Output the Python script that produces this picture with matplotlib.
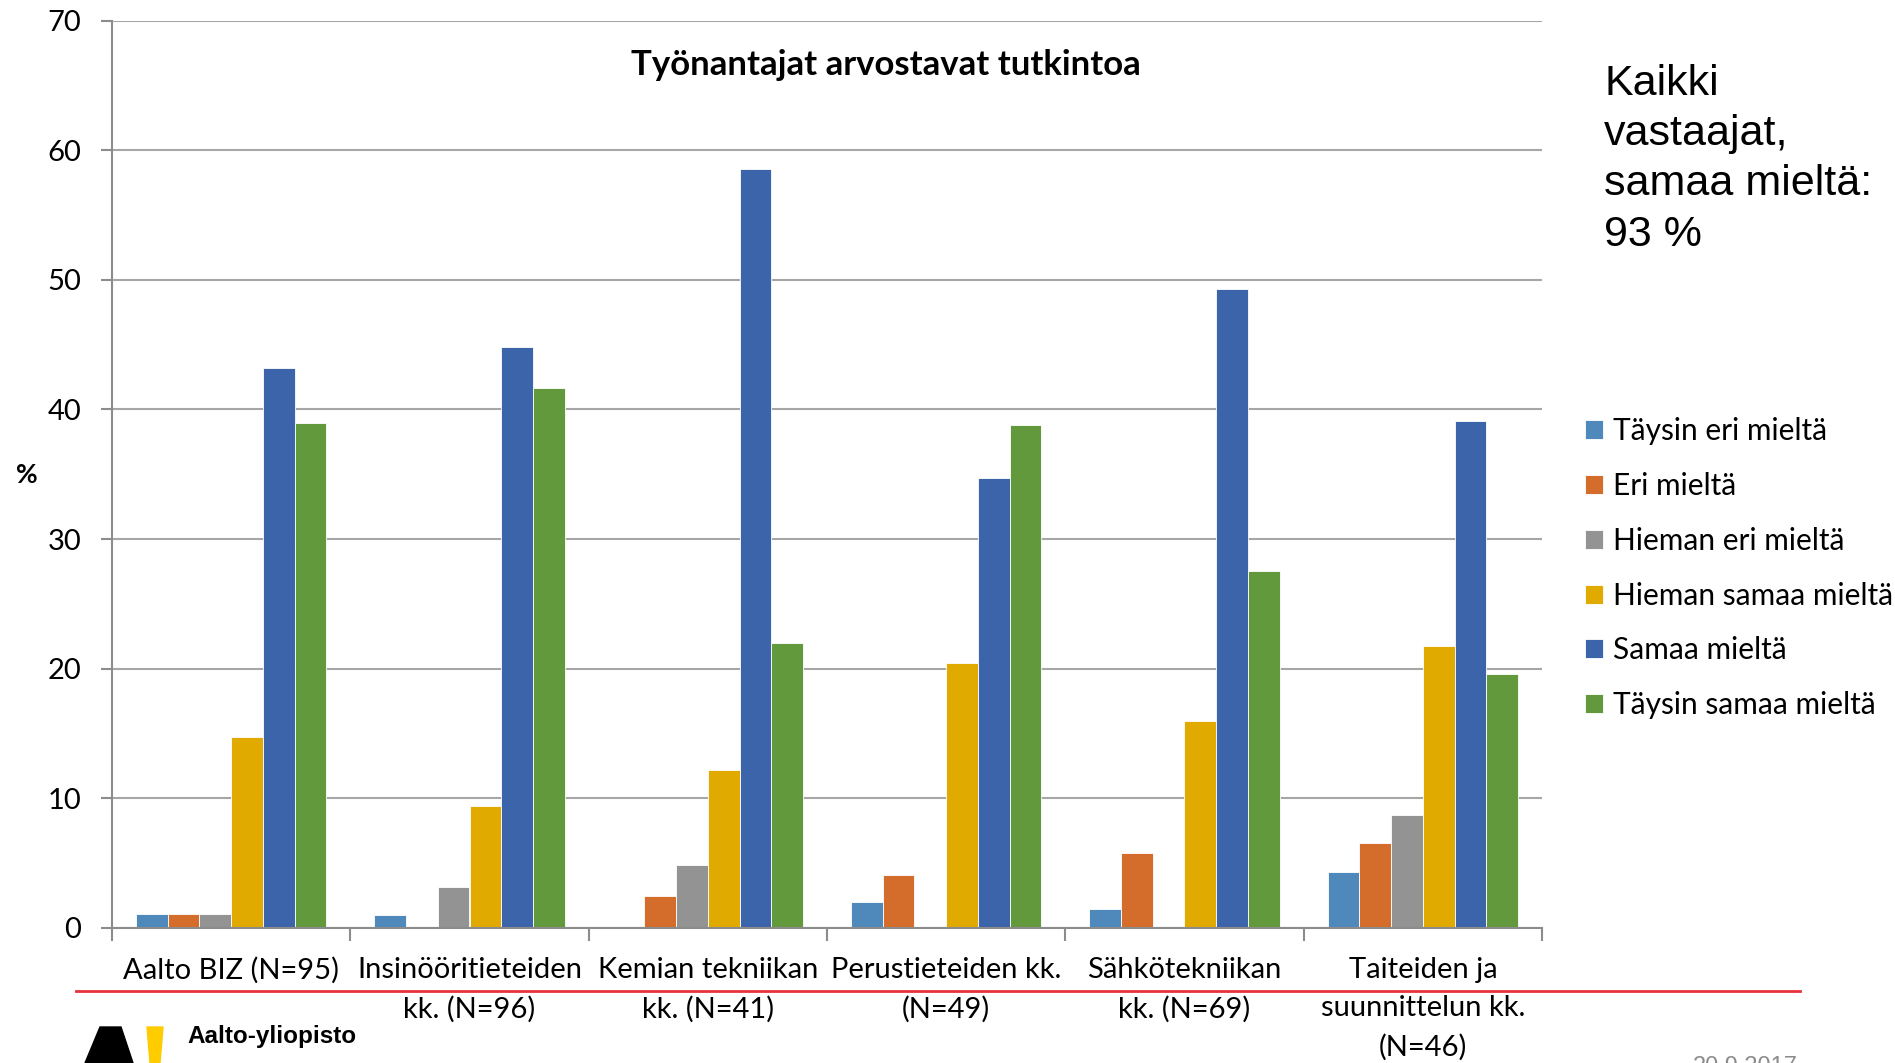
import numpy as np
import matplotlib
matplotlib.use("Agg")
import matplotlib.pyplot as plt
from matplotlib.patches import Polygon

plt.rcParams['font.family'] = ['Lato', 'DejaVu Sans']

# Data (%)
categories = ["Aalto BIZ (N=95)", "Insinööritieteiden\nkk. (N=96)", "Kemian tekniikan\nkk. (N=41)",
              "Perustieteiden kk.\n(N=49)", "Sähkötekniikan\nkk. (N=69)", "Taiteiden ja\nsuunnittelun kk.\n(N=46)"]
series = ["Täysin eri mieltä", "Eri mieltä", "Hieman eri mieltä",
          "Hieman samaa mieltä", "Samaa mieltä", "Täysin samaa mieltä"]
taysin_eri = [1.05, 1.04, 0.0, 2.04, 1.45, 4.35]
eri = [1.05, 0.0, 2.44, 4.08, 5.80, 6.52]
hieman_eri = [1.05, 3.13, 4.88, 0.0, 0.0, 8.70]
hieman_samaa = [14.74, 9.38, 12.20, 20.41, 15.94, 21.74]
samaa = [43.16, 44.79, 58.54, 34.69, 49.28, 39.13]
taysin_samaa = [38.95, 41.67, 21.95, 38.78, 27.54, 19.57]
values = [taysin_eri, eri, hieman_eri, hieman_samaa, samaa, taysin_samaa]
colors = ["#4f88bb", "#d46d2c", "#939393", "#e1aa00", "#3c64aa", "#63993d"]

W, H = 1895, 1063
fig = plt.figure(figsize=(W / 100, H / 100), dpi=100)
ax = fig.add_axes([112 / W, 1 - 928 / H, (1542 - 112) / W, (928 - 20.5) / H])

x = np.arange(len(categories))
bw = 1 / 7.5
for j, (vals, c, name) in enumerate(zip(values, colors, series)):
    ax.bar(x + (j - 2.5) * bw, vals, bw, color=c, label=name,
           edgecolor="white", linewidth=0.6, zorder=2)

ax.set_xlim(-0.5, len(categories) - 0.5)
ax.set_ylim(0, 70)
ax.set_yticks(range(0, 71, 10))
ax.yaxis.grid(True, color="#a6a6a6", linewidth=1.5, zorder=0)
ax.set_axisbelow(True)
ax.set_xticks(x)
ax.set_xticklabels(categories, fontsize=21, linespacing=1.57)
ax.set_xticks(np.arange(-0.5, len(categories)), minor=True)
ax.tick_params(axis="x", which="major", length=0, pad=21)
ax.tick_params(axis="x", which="minor", length=9, width=1.5, color="#8c8c8c")
ax.tick_params(axis="y", labelsize=21, length=8, width=1.5, color="#8c8c8c", pad=14)
for s in ["top", "right"]:
    ax.spines[s].set_visible(False)
for s in ["left", "bottom"]:
    ax.spines[s].set_color("#8c8c8c")
    ax.spines[s].set_linewidth(1.5)

ax.text(0.541, 0.951, "Työnantajat arvostavat tutkintoa", transform=ax.transAxes,
        ha="center", va="center", fontsize=25, fontweight="bold")
fig.text(27 / W, 1 - 475 / H, "%", fontsize=19, fontweight="bold", ha="center", va="center")

leg = ax.legend(loc="upper left", bbox_to_anchor=(1573 / W, 1 - 405 / H), bbox_transform=fig.transFigure,
                frameon=False, fontsize=21.5, handlelength=0.6, handleheight=0.6,
                handletextpad=0.35, labelspacing=0.9, borderaxespad=0)

fig.text(1604 / W, 1 - 64 / H, "Kaikki\nvastaajat,\nsamaa mieltä:\n93 %", family="Liberation Sans",
         fontsize=31, ha="left", va="top", linespacing=1.33)

# red separator line
fig.add_artist(plt.Line2D([76 / W, 1800 / W], [1 - 991 / H, 1 - 991 / H], color="#e8323c", linewidth=2))

# logo
black = Polygon([(100 / W, 1 - 1027 / H), (121 / W, 1 - 1027 / H), (133 / W, 0), (85 / W, 0)],
                closed=True, color="black", transform=fig.transFigure)
yellow = Polygon([(147 / W, 1 - 1027 / H), (163 / W, 1 - 1027 / H), (160 / W, 0), (150 / W, 0)],
                 closed=True, color="#ffcc00", transform=fig.transFigure)
fig.add_artist(black)
fig.add_artist(yellow)
fig.text(187 / W, 1 - 1037 / H, "Aalto-yliopisto", family="Liberation Sans", fontweight="bold",
         fontsize=17.5, ha="left", va="center")
fig.text(1798 / W, 1 - 1056 / H, "20.9.2017", family="Liberation Sans", color="#8c8c8c",
         fontsize=17, ha="right", va="top")

fig.savefig("out.png", dpi=100)
